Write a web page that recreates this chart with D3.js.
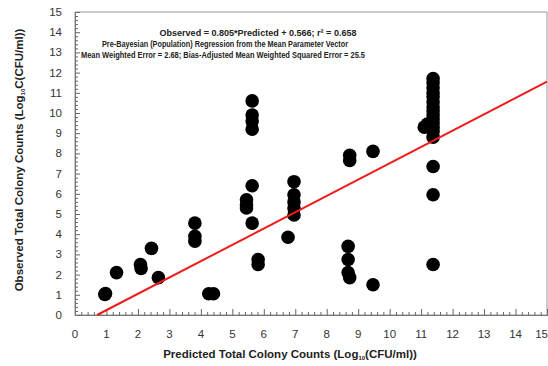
<!DOCTYPE html>
<html>
<head>
<meta charset="utf-8">
<script src="https://cdn.jsdelivr.net/npm/d3@7"></script>
<style>
  body { margin: 0; background: #fff; }
  svg { display: block; font-family: 'Liberation Sans', Arial, sans-serif; }
</style>
</head>
<body>
<div class="chartHolder"></div>
<script>
// values (log10 CFU/ml)
var predicted = [0.95, 0.97, 1.32, 2.08, 2.1, 2.43, 2.65, 3.81, 3.81, 3.81, 4.25, 4.4,
  5.63, 5.63, 5.63, 5.63, 5.63, 5.45, 5.45, 5.45, 5.63, 5.82, 5.82,
  6.96, 6.96, 6.96, 6.96, 6.96, 6.77,
  8.73, 8.73, 9.47, 8.68, 8.68, 8.68, 8.73, 9.47,
  11.38, 11.38, 11.38, 11.38, 11.38, 11.38, 11.38, 11.38, 11.38, 11.38, 11.38, 11.38, 11.38, 11.38,
  11.1, 11.2, 11.38, 11.38, 11.38]
var observed = [1.02, 1.06, 2.1, 2.5, 2.3, 3.3, 1.85, 4.55, 3.9, 3.65, 1.05, 1.05,
  10.6, 9.9, 9.6, 9.2, 6.4, 5.7, 5.45, 5.3, 4.55, 2.75, 2.5,
  6.6, 5.95, 5.6, 5.3, 4.95, 3.85,
  7.9, 7.65, 8.1, 3.4, 2.75, 2.1, 1.85, 1.5,
  11.7, 11.5, 11.25, 11.0, 10.8, 10.55, 10.3, 10.1, 9.9, 9.7, 9.5, 9.3, 9.1, 8.8,
  9.3, 9.45, 7.35, 5.95, 2.5]
var xTicks = d3.range(0, 16)
var yTicks = d3.range(0, 16)
var fitX = [0.7, 15]
var fitY = [0, 11.55]
var noteLines = [
  'Observed = 0.805*Predicted + 0.566; r\u00b2 = 0.658',
  'Pre-Bayesian (Population) Regression from the Mean Parameter Vector',
  'Mean Weighted Error = 2.68; Bias-Adjusted Mean Weighted Squared Error = 25.5'
]

const width = 548
const height = 366
var margin = { top: 12, right: 1, bottom: 51, left: 75 }

var xScale = d3.scaleLinear()
  .domain([0, 15])
  .range([margin.left, width - margin.right])
var yScale = d3.scaleLinear()
  .domain([0, 15])
  .range([height - margin.bottom, margin.top])

var svg = d3.select('.chartHolder').append('svg')
  .attr('width', width)
  .attr('height', height)

// plot frame
svg.append('rect')
  .attr('x', xScale(0))
  .attr('y', yScale(15))
  .attr('width', xScale(15) - xScale(0))
  .attr('height', yScale(0) - yScale(15))
  .style('fill', 'none')
  .style('stroke', '#9a9a9a')
  .style('stroke-width', 1)

// minor ticks, inward
var minor = d3.range(0, 15.01, 0.2).filter(function(v) {
  return Math.abs(v - Math.round(v)) > 0.01
})
var xAxis = d3.axisTop(xScale).tickValues(xTicks).tickSize(6).tickFormat('')
var xMinor = d3.axisTop(xScale).tickValues(minor).tickSize(3).tickFormat('')
var yAxis = d3.axisRight(yScale).tickValues(yTicks).tickSize(5).tickFormat('')
var yMinor = d3.axisRight(yScale).tickValues(minor).tickSize(3).tickFormat('')

svg.append('g').attr('transform', `translate(0,${yScale(0)})`).call(xAxis)
svg.append('g').attr('transform', `translate(0,${yScale(0)})`).call(xMinor)
svg.append('g').attr('transform', `translate(${xScale(0)},0)`).call(yAxis)
svg.append('g').attr('transform', `translate(${xScale(0)},0)`).call(yMinor)
svg.selectAll('.domain').style('stroke', '#777')
svg.selectAll('.tick line').style('stroke', '#666')

// tick labels (last one kept inside the window)
svg.selectAll('.xlab')
  .data(xTicks)
  .enter()
  .append('text')
  .attr('x', function(d) { return d === 15 ? width : xScale(d) })
  .attr('y', yScale(0) + 23)
  .attr('text-anchor', function(d) { return d === 15 ? 'end' : 'middle' })
  .style('font-size', '11.5px')
  .style('fill', '#333')
  .text(function(d) { return d })
svg.selectAll('.ylab')
  .data(yTicks)
  .enter()
  .append('text')
  .attr('x', xScale(0) - 13)
  .attr('y', function(d) { return yScale(d) + 4 })
  .attr('text-anchor', 'end')
  .style('font-size', '11.5px')
  .style('fill', '#333')
  .text(function(d) { return d })

// axis titles
var xt = svg.append('text')
  .attr('x', 290)
  .attr('y', 358)
  .attr('text-anchor', 'middle')
  .style('font-size', '11.5px')
  .style('font-weight', 'bold')
  .style('fill', '#222')
xt.append('tspan').text('Predicted Total Colony Counts (Log')
xt.append('tspan').attr('baseline-shift', '-25%').style('font-size', '6px').text('10')
xt.append('tspan').text('(CFU/ml))')

var yt = svg.append('text')
  .attr('transform', 'translate(23,160) rotate(-90)')
  .attr('text-anchor', 'middle')
  .style('font-size', '11.5px')
  .style('font-weight', 'bold')
  .style('fill', '#222')
yt.append('tspan').text('Observed Total Colony Counts (Log')
yt.append('tspan').attr('baseline-shift', '-25%').style('font-size', '6px').text('10')
yt.append('tspan').text('C(CFU/ml))')

// note block
var noteX = [258, 225, 223]
var noteW = [197, 246, 284]
svg.selectAll('.note')
  .data(noteLines)
  .enter()
  .append('text')
  .attr('x', function(d, i) { return noteX[i] })
  .attr('y', function(d, i) { return 36 + i * 11 })
  .attr('text-anchor', 'middle')
  .attr('textLength', function(d, i) { return noteW[i] })
  .attr('lengthAdjust', 'spacingAndGlyphs')
  .style('font-size', '9px')
  .style('font-weight', 'bold')
  .style('fill', '#222')
  .text(function(d) { return d })

// points
svg.selectAll('circle')
  .data(predicted)
  .enter()
  .append('circle')
  .attr('cx', function(d) { return xScale(d) })
  .attr('cy', function(d, i) { return yScale(observed[i]) })
  .attr('r', 6.8)
  .style('fill', '#000')

// fitted line
var line = d3.line()
  .x(function(d, i) { return xScale(fitX[i]) })
  .y(function(d) { return yScale(d) })
svg.append('path')
  .attr('d', line(fitY))
  .style('fill', 'none')
  .style('stroke', '#ee1c1c')
  .style('stroke-width', 2)
</script>
</body>
</html>
